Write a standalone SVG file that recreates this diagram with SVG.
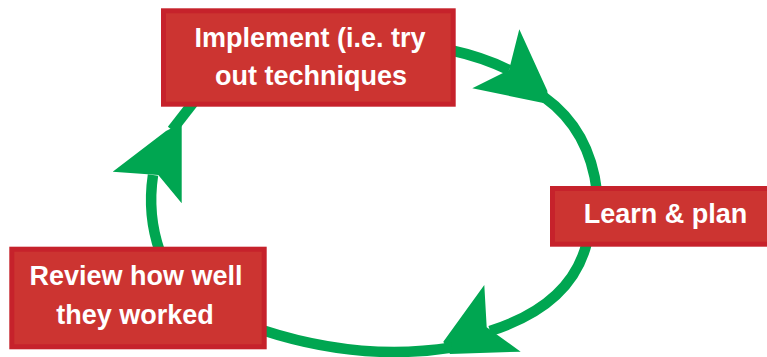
<svg xmlns="http://www.w3.org/2000/svg" width="767" height="357" viewBox="0 0 767 357">
<style>
.box{fill:#cc3431;stroke:#c6222b;stroke-width:5}
.lbl{font-family:"Liberation Sans",Arial,sans-serif;font-weight:bold;font-size:27px;fill:#ffffff;text-anchor:middle}
.arc{fill:none;stroke:#00a651;stroke-width:10.5}
.head{fill:#00a651}
</style>
<rect width="767" height="357" fill="#ffffff"/>
<g id="connectors">
<path class="arc" d="M452,50.5 Q482,57 509,70"/>
<polygon class="head" points="519.3,29.3 547.3,90.7 548.3,104 472.3,88.3 509,70"/>
<path class="arc" d="M544,97 Q590,130 597,192"/>
<path class="arc" d="M587,242 Q572,305 490,331"/>
<polygon class="head" points="484.3,285 486.7,327.3 520.7,351.7 450,354 443.3,341.7"/>
<path class="arc" d="M452,347.5 Q360,362 262,330"/>
<path class="arc" d="M160,252 Q147,215 153,175"/>
<polygon class="head" points="112.7,171.7 166,131 181.7,123 181.7,203.3 158.3,175"/>
<path class="arc" d="M172,130 L193,103"/>
</g>
<g id="node-implement">
<rect class="box" x="163.5" y="10.8" width="289.7" height="93.4"/>
<text class="lbl" x="310" y="46.5">Implement (i.e. try</text>
<text class="lbl" x="311" y="85">out techniques</text>
</g>
<g id="node-learn">
<rect class="box" x="552.5" y="188.5" width="220" height="55.7"/>
<text class="lbl" x="665.5" y="223">Learn &amp; plan</text>
</g>
<g id="node-review">
<rect class="box" x="11.8" y="249.2" width="252.4" height="97.6"/>
<text class="lbl" x="136" y="284.5">Review how well</text>
<text class="lbl" x="135" y="323.5">they worked</text>
</g>
</svg>
